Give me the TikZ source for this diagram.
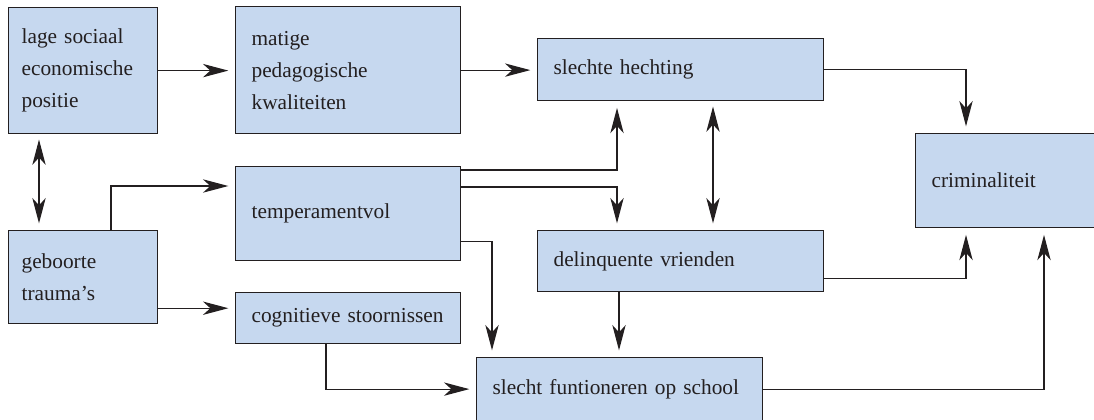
\documentclass[tikz,border=0pt]{standalone}
\usepackage{fontspec}
\setmainfont{Liberation Serif}
\usetikzlibrary{arrows.meta, calc, positioning}

\definecolor{blokblauw}{RGB}{198,216,239}
\definecolor{lijnkleur}{RGB}{35,31,32}

\tikzset{
	blok/.style={rectangle, draw=lijnkleur, line width=0.9pt, fill=blokblauw, anchor=north west,
		align=left, inner xsep=12pt, inner ysep=0pt, text=lijnkleur, font=\fontsize{16}{24}\selectfont},
	pijl/.style={draw=lijnkleur, line width=0.9pt, -{Stealth[length=19pt,width=10pt,inset=5.5pt]}, shorten >=5pt},
	dubbelpijl/.style={pijl, {Stealth[length=19pt,width=10pt,inset=5.5pt]}-{Stealth[length=19pt,width=10pt,inset=5.5pt]}, shorten <=4pt},
}

\begin{document}
\begin{tikzpicture}[x=0.75pt,y=0.75pt,yscale=-1,xscale=1]
	\useasboundingbox (0,0) rectangle (1094,419);
	\clip (0,0) rectangle (1094,419);
	
	% Boxes
	\node[blok, minimum width=111.75pt, minimum height=94.5pt, text width=92.25pt, inner xsep=9.75pt] (lse) at (8,7) {lage sociaal\\economische\\positie};
	\node[blok, minimum width=168.75pt, minimum height=95.25pt, text width=144.75pt] (ped) at (235,6) {matige\\pedagogische\\kwaliteiten};
	\node[blok, minimum width=214.5pt, minimum height=46.5pt, text width=190.5pt] (hecht) at (537,38) {slechte hechting};
	\node[blok, minimum width=137.25pt, minimum height=70.5pt, text width=113.25pt] (crim) at (915,133) {criminaliteit};
	\node[blok, minimum width=111.75pt, minimum height=69.75pt, text width=92.25pt, inner xsep=9.75pt] (geb) at (8,230) {geboorte\\trauma’s};
	\node[blok, minimum width=168.75pt, minimum height=70.5pt, text width=144.75pt] (temp) at (235,166) {temperamentvol};
	\node[blok, minimum width=214.5pt, minimum height=45.75pt, text width=190.5pt] (delin) at (537,230) {delinquente vrienden};
	\node[blok, minimum width=168.75pt, minimum height=38.25pt, text width=144.75pt] (cogn) at (235,292) {cognitieve~stoornissen};
	\node[blok, minimum width=214.5pt, minimum height=47.25pt, text width=190.5pt] (school) at (476,357) {slecht funtioneren op school};
	
	% Connectors
	\coordinate (gebuit) at ($(geb.south east)+(0,-16)$);
	\draw[pijl] (lse.east) -- (lse.east -| ped.west);
	\draw[pijl] (ped.east) -- (ped.east -| hecht.west);
	\draw[pijl] (hecht.east) -| ($(crim.north west)+(51,0)$);
	\draw[dubbelpijl] ($(lse.south west)+(31,0)$) -- ($(geb.north west)+(31,0)$);
	\draw[pijl] ($(geb.north west)+(103,0)$) |- ($(temp.north west)+(0,20)$);
	\draw[pijl] (gebuit) -- (gebuit -| cogn.west);
	\draw[pijl] ($(temp.north east)+(0,4)$) -| ($(hecht.south west)+(80,0)$);
	\draw[pijl] ($(temp.north east)+(0,21)$) -| ($(delin.north west)+(80,0)$);
	\draw[dubbelpijl] ($(hecht.south west)+(176,0)$) -- ($(delin.north west)+(176,0)$);
	\draw[pijl] ($(temp.south east)+(0,-20)$) -| ($(school.north west)+(16,0)$);
	\draw[pijl] ($(delin.south west)+(82,0)$) -- ($(school.north west)+(143,0)$);
	\draw[pijl] ($(cogn.south west)+(91,0)$) |- (school.west);
	\draw[pijl] ($(delin.south east)+(0,-14)$) -| ($(crim.south west)+(51,0)$);
	\draw[pijl] (school.east) -| ($(crim.south west)+(129,0)$);
	
\end{tikzpicture}
\end{document}
